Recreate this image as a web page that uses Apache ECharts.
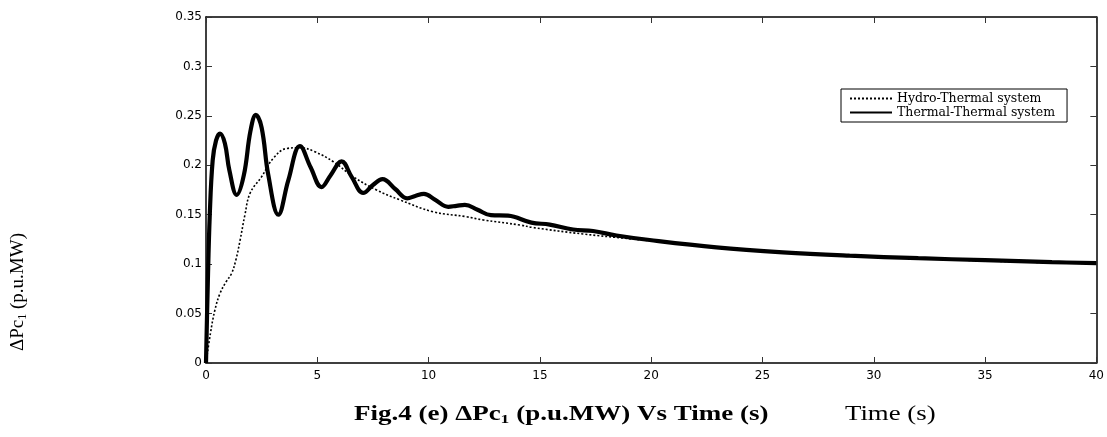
<!DOCTYPE html>
<html>
<head>
<meta charset="utf-8">
<script src="https://cdn.jsdelivr.net/npm/echarts@6/dist/echarts.min.js"></script>
<style>
html,body{margin:0;padding:0;background:#fff;}
#chart{width:1107px;height:437px;}
</style>
</head>
<body>
<div id="chart"></div>
<script>
// ---- data (time in s, value in p.u.MW) ----
var thermalT = [0,0.08,0.17,0.3,0.45,0.63,0.85,1.05,1.38,1.7,2.0,2.24,2.5,2.8,3.25,3.7,4.22,4.7,5.19,5.6,6.09,6.55,7.06,7.5,7.93,8.5,9.04,9.4,9.79,10.3,10.88,11.25,11.63,12.2,12.8,13.57,14.62,15.44,16.49,17.39,18.44,19.93,22.93,25.92,28.91,32,35,38,40];
var thermalV = [0,0.08,0.15,0.205,0.225,0.232,0.222,0.195,0.170,0.19,0.235,0.251,0.238,0.19,0.150,0.185,0.2195,0.198,0.178,0.19,0.204,0.188,0.172,0.18,0.186,0.176,0.1666,0.169,0.171,0.165,0.158,0.159,0.160,0.155,0.1495,0.149,0.142,0.140,0.135,0.1335,0.129,0.1244,0.117,0.112,0.1086,0.106,0.104,0.102,0.101];
var hydroT = [0,0.2,0.4,0.63,0.9,1.15,1.35,1.53,1.75,1.98,2.5,3.02,3.62,4.22,4.89,5.72,6.61,7.66,8.71,10.2,11.7,12.45,14.1,14.7,16.94,19.18,22,25,28,31,34,37,40];
var hydroV = [0,0.03,0.0536,0.0705,0.082,0.0907,0.105,0.124,0.15,0.1717,0.1885,0.207,0.217,0.2178,0.2137,0.2036,0.1885,0.175,0.165,0.153,0.148,0.1447,0.1396,0.137,0.1305,0.1254,0.119,0.1135,0.109,0.1065,0.104,0.102,0.1005];
var seriesNames = ['Hydro-Thermal system','Thermal-Thermal system'];
var xTicks = {min:0, max:40, interval:5};
var yTicks = {min:0, max:0.35, interval:0.05};
var yAxisTitle = 'ΔPc';
var caption = 'Fig.4 (e) ΔPc';

function zip(a,b){ return a.map(function(t,i){ return [t,b[i]]; }); }

var chart = echarts.init(document.getElementById('chart'), null, {renderer:'canvas'});
var axisLabelFont = {fontFamily:'DejaVu Sans', fontSize:12, color:'#000'};
var option = {
  animation:false,
  backgroundColor:'#fff',
  grid:{left:206, right:10, top:17, bottom:74, containLabel:false},
  legend:{
    orient:'vertical', left:841, top:89,
    data:seriesNames,
    backgroundColor:'#fff', borderColor:'#000', borderWidth:1,
    padding:[3,12,3,8], itemGap:1, itemWidth:42, itemHeight:8,
    itemStyle:{color:'rgba(0,0,0,0)', borderColor:'rgba(0,0,0,0)', borderWidth:0},
    textStyle:{fontFamily:'DejaVu Serif', fontSize:12.5, color:'#000'}
  },
  xAxis:[{
    type:'value', min:xTicks.min, max:xTicks.max, interval:xTicks.interval,
    axisLine:{show:true, onZero:false, lineStyle:{color:'#000', width:1.5}},
    axisTick:{show:true, inside:true, length:6, lineStyle:{color:'#333'}},
    axisLabel:Object.assign({margin:7}, axisLabelFont),
    splitLine:{show:false}
  },{
    type:'value', position:'top', min:xTicks.min, max:xTicks.max, interval:xTicks.interval,
    axisLine:{show:true, onZero:false, lineStyle:{color:'#000', width:1.5}},
    axisTick:{show:true, inside:true, length:6, lineStyle:{color:'#333'}},
    axisLabel:{show:false}, splitLine:{show:false}
  }],
  yAxis:[{
    type:'value', min:yTicks.min, max:yTicks.max, interval:yTicks.interval,
    axisLine:{show:true, onZero:false, lineStyle:{color:'#000', width:1.5}},
    axisTick:{show:true, inside:true, length:6, lineStyle:{color:'#333'}},
    axisLabel:Object.assign({margin:4, formatter:function(v){return String(+v.toFixed(2));}}, axisLabelFont),
    splitLine:{show:false}
  },{
    type:'value', position:'right', min:yTicks.min, max:yTicks.max, interval:yTicks.interval,
    axisLine:{show:true, onZero:false, lineStyle:{color:'#000', width:1.5}},
    axisTick:{show:true, inside:true, length:6, lineStyle:{color:'#333'}},
    axisLabel:{show:false}, splitLine:{show:false}
  }],
  series:[{
    name:seriesNames[0], type:'line', data:zip(hydroT,hydroV),
    showSymbol:false, symbol:'none', smooth:0.4,
    lineStyle:{color:'#000', width:1.6, type:[2,2]},
    itemStyle:{color:'#000'}, z:3
  },{
    name:seriesNames[1], type:'line', data:zip(thermalT,thermalV),
    showSymbol:false, symbol:'none', smooth:0.4,
    lineStyle:{color:'#000', width:4.2},
    itemStyle:{color:'#000'}, z:2
  }],
  graphic:[{
    type:'text', left:9, top:233, rotation:Math.PI/2,
    style:{
      text:'{a|'+yAxisTitle+'}{s|1}{a| (p.u.MW)}',
      rich:{a:{fontFamily:'Liberation Serif', fontSize:19, fill:'#000'},
            s:{fontFamily:'Liberation Serif', fontSize:12, fill:'#000', padding:[9,0,0,0]}}
    }
  },{
    type:'text', left:354, top:405, scaleX:1.35,
    style:{
      text:'{b|'+caption+'}{bs|1}{b| (p.u.MW) Vs Time (s)}',
      rich:{b:{fontFamily:'Liberation Serif', fontSize:20, fontWeight:'bold', fill:'#000'},
            bs:{fontFamily:'Liberation Serif', fontSize:13, fontWeight:'bold', fill:'#000', padding:[9,0,0,0]}}
    }
  },{
    type:'text', left:845, top:405, scaleX:1.34,
    style:{text:'Time (s)', fontFamily:'Liberation Serif', fontSize:20, fill:'#000'}
  }]
};
chart.setOption(option);
</script>
</body>
</html>
